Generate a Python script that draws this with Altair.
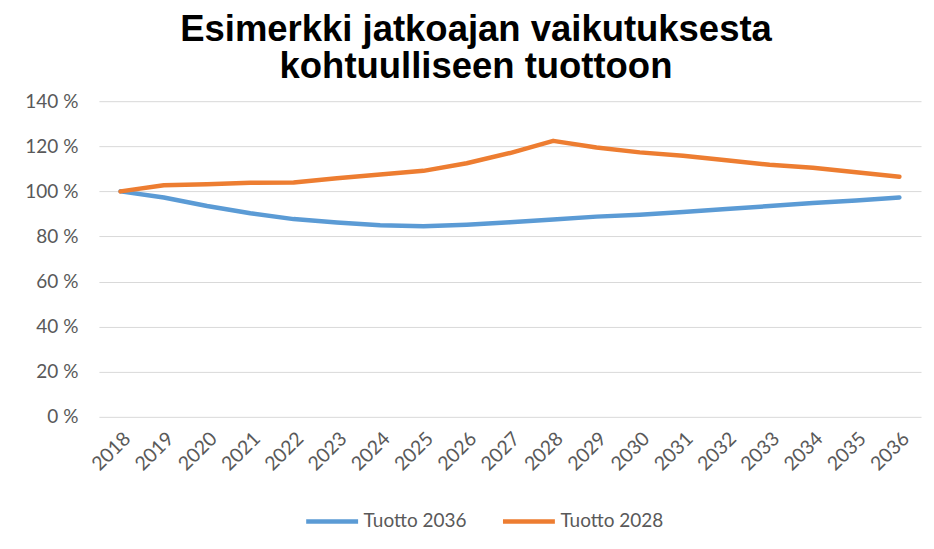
import altair as alt
import pandas as pd

years = [str(y) for y in range(2018, 2037)]
tuotto_2036 = [100, 97.3, 93.5, 90.3, 87.7, 86.2, 85.0, 84.5, 85.2, 86.3, 87.5, 88.8, 89.6, 90.8, 92.2, 93.5, 94.8, 96.0, 97.3]
tuotto_2028 = [100, 102.7, 103.2, 103.8, 103.9, 105.8, 107.5, 109.1, 112.5, 117.0, 122.4, 119.5, 117.3, 115.8, 113.8, 111.8, 110.5, 108.5, 106.5]
series = ["Tuotto 2036", "Tuotto 2028"]
colors = ["#5B9BD5", "#ED7D31"]

rows = []
for name, vals in zip(series, [tuotto_2036, tuotto_2028]):
    for y, v in zip(years, vals):
        rows.append({"Vuosi": y, "Sarja": name, "Arvo": v / 100.0})
df = pd.DataFrame(rows)

font = "Lato"
grey = "#595959"

chart = alt.Chart(df).mark_line(strokeWidth=4.5, strokeCap="round", strokeJoin="round").encode(
    x=alt.X("Vuosi:O", sort=years, title=None,
            scale=alt.Scale(type="point", padding=0.5),
            axis=alt.Axis(labelAngle=-45, labelPadding=12, ticks=False, domain=False,
                          labelFont=font, labelFontSize=19.5, labelColor=grey)),
    y=alt.Y("Arvo:Q", title=None,
            scale=alt.Scale(domain=[0, 1.4], nice=False),
            axis=alt.Axis(values=[0, 0.2, 0.4, 0.6, 0.8, 1.0, 1.2, 1.4],
                          labelExpr="format(datum.value*100, '.0f') + ' %'",
                          ticks=False, domain=False, labelPadding=21,
                          gridColor="#D9D9D9", gridWidth=1,
                          labelFont=font, labelFontSize=19, labelColor=grey)),
    color=alt.Color("Sarja:N", title=None,
                    scale=alt.Scale(domain=series, range=colors),
                    legend=alt.Legend(orient="none", legendX=205, legendY=392,
                                      direction="horizontal",
                                      symbolType="stroke", symbolSize=2700,
                                      symbolStrokeWidth=4.5, labelFont=font,
                                      labelFontSize=19, labelColor=grey,
                                      columnPadding=26, labelOffset=3)),
    order=alt.Order("Sarja:N", sort="descending"),
).properties(
    width=823,
    height=316,
    title=alt.Title(["Esimerkki jatkoajan vaikutuksesta", "kohtuulliseen tuottoon"],
                    font="Liberation Sans", fontSize=36.5, fontWeight="bold",
                    color="#000000", lineHeight=37, offset=7, anchor="middle", dx=-34),
    padding={"left": 16, "top": 3, "right": 5, "bottom": 5},
    background="white",
).configure_view(stroke=None)

chart.save("out.html", embed_options={"renderer": "svg", "actions": False})
